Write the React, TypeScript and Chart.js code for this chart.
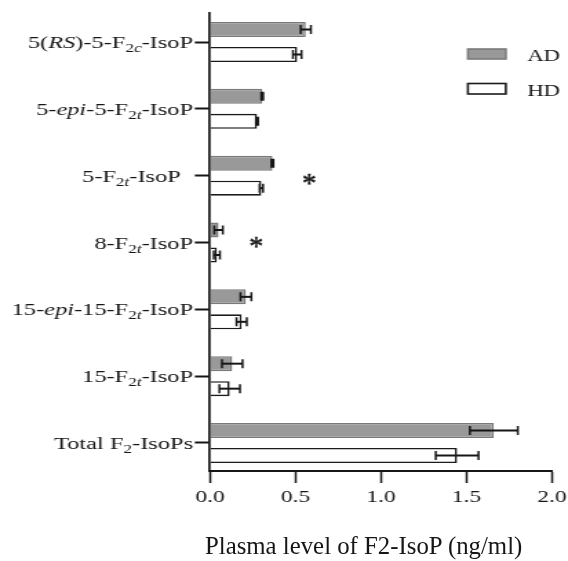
import React, { useEffect, useRef } from 'react';
import { Chart, registerables } from 'chart.js';

Chart.register(...registerables);

// ---------- data ----------
const categories = [
  '5(RS)-5-F2c-IsoP',
  '5-epi-5-F2t-IsoP',
  '5-F2t-IsoP',
  '8-F2t-IsoP',
  '15-epi-15-F2t-IsoP',
  '15-F2t-IsoP',
  'Total F2-IsoPs',
];
const seriesNames = ['AD', 'HD'];
const adMeans = [0.56, 0.305, 0.365, 0.05, 0.21, 0.13, 1.66];
const adErrors = [0.03, 0.006, 0.006, 0.025, 0.032, 0.06, 0.14];
const hdMeans = [0.51, 0.275, 0.3, 0.04, 0.185, 0.115, 1.445];
const hdErrors = [0.025, 0.006, 0.01, 0.018, 0.03, 0.06, 0.125];
const xTicks = [0, 0.5, 1.0, 1.5, 2.0];
// significance markers: x in ng/ml, y as (fractional) category index
const significance = [
  { y: 2.045, x: 0.58 },
  { y: 2.985, x: 0.27 },
];
const axisTitle = 'Plasma level of F2-IsoP (ng/ml)';

type Seg = { t: string; i?: boolean; sub?: boolean };
const labelParts: Seg[][] = [
  [{ t: '5(' }, { t: 'RS', i: true }, { t: ')-5-F' }, { t: '2', sub: true }, { t: 'c', sub: true, i: true }, { t: '-IsoP' }],
  [{ t: '5-' }, { t: 'epi', i: true }, { t: '-5-F' }, { t: '2', sub: true }, { t: 't', sub: true, i: true }, { t: '-IsoP' }],
  [{ t: '5-F' }, { t: '2', sub: true }, { t: 't', sub: true, i: true }, { t: '-IsoP  ' }],
  [{ t: '8-F' }, { t: '2', sub: true }, { t: 't', sub: true, i: true }, { t: '-IsoP' }],
  [{ t: '15-' }, { t: 'epi', i: true }, { t: '-15-F' }, { t: '2', sub: true }, { t: 't', sub: true, i: true }, { t: '-IsoP' }],
  [{ t: '15-F' }, { t: '2', sub: true }, { t: 't', sub: true, i: true }, { t: '-IsoP' }],
  [{ t: 'Total F' }, { t: '2', sub: true }, { t: '-IsoPs' }],
];

// ---------- styling ----------
const INNER_W = 412;
const OUTER_W = 568;
const H = 561;
const STRETCH = OUTER_W / INNER_W;
const FONT = '"Liberation Serif", "Times New Roman", serif';
const AD_FILL = '#999999';
const AD_BORDER = '#7a7a7a';
const HD_FILL = '#ffffff';
const HD_BORDER = '#1a1a1a';
const INK = '#161616';

const segFont = (s: Seg) => `${s.i ? 'italic ' : ''}${s.sub ? 12.5 : 17.7}px ${FONT}`;

const labelPlugin = {
  id: 'richLabels',
  afterDraw(chart: any) {
    const ctx = chart.ctx;
    const yScale = chart.scales.y;
    const right = chart.chartArea.left - 12.3;
    ctx.save();
    ctx.fillStyle = INK;
    ctx.textBaseline = 'alphabetic';
    ctx.textAlign = 'left';
    labelParts.forEach((parts, i) => {
      const y = yScale.getPixelForValue(i) + 6;
      let total = 0;
      parts.forEach((p) => {
        ctx.font = segFont(p);
        total += ctx.measureText(p.t).width;
      });
      let x = right - total;
      parts.forEach((p) => {
        ctx.font = segFont(p);
        ctx.fillText(p.t, x, p.sub ? y + 4 : y);
        x += ctx.measureText(p.t).width;
      });
    });
    ctx.restore();
  },
};

const errorBarPlugin = {
  id: 'errorBars',
  afterDatasetsDraw(chart: any) {
    const ctx = chart.ctx;
    const xScale = chart.scales.x;
    const means = [adMeans, hdMeans];
    const errs = [adErrors, hdErrors];
    ctx.save();
    ctx.strokeStyle = INK;
    chart.data.datasets.forEach((_: any, d: number) => {
      const meta = chart.getDatasetMeta(d);
      meta.data.forEach((bar: any, i: number) => {
        const y = bar.y;
        const x1 = xScale.getPixelForValue(means[d][i] - errs[d][i]);
        const x2 = xScale.getPixelForValue(means[d][i] + errs[d][i]);
        ctx.lineWidth = 2;
        ctx.beginPath();
        ctx.moveTo(x1, y);
        ctx.lineTo(x2, y);
        ctx.stroke();
        ctx.lineWidth = 1.5;
        ctx.beginPath();
        ctx.moveTo(x1, y - 4.5);
        ctx.lineTo(x1, y + 4.5);
        ctx.moveTo(x2, y - 4.5);
        ctx.lineTo(x2, y + 4.5);
        ctx.stroke();
      });
    });
    ctx.restore();
  },
};

const starPlugin = {
  id: 'stars',
  afterDraw(chart: any) {
    const ctx = chart.ctx;
    const xs = chart.scales.x;
    const ys = chart.scales.y;
    ctx.save();
    // undo the horizontal stretch so the asterisk keeps its shape
    ctx.scale(1 / STRETCH, 1);
    ctx.fillStyle = INK;
    ctx.strokeStyle = INK;
    ctx.lineWidth = 0.6;
    ctx.font = `28px ${FONT}`;
    ctx.textAlign = 'center';
    ctx.textBaseline = 'middle';
    significance.forEach((s) => {
      const px = xs.getPixelForValue(s.x) * STRETCH;
      const py = ys.getPixelForValue(s.y) + 6;
      ctx.fillText('*', px, py);
      ctx.strokeText('*', px, py);
    });
    ctx.restore();
  },
};

const legendPlugin = {
  id: 'customLegend',
  afterDraw(chart: any) {
    const ctx = chart.ctx;
    const area = chart.chartArea;
    const boxLeft = area.right - 61;
    const boxW = 27.5;
    const rows = [
      { top: 49, h: 10, fill: AD_FILL, stroke: AD_BORDER },
      { top: 83.5, h: 10.5, fill: HD_FILL, stroke: HD_BORDER },
    ];
    ctx.save();
    rows.forEach((r, i) => {
      ctx.fillStyle = r.fill;
      ctx.strokeStyle = r.stroke;
      ctx.lineWidth = 1.6;
      ctx.fillRect(boxLeft, r.top, boxW, r.h);
      ctx.strokeRect(boxLeft, r.top, boxW, r.h);
      ctx.fillStyle = INK;
      ctx.font = `16.5px ${FONT}`;
      ctx.textAlign = 'left';
      ctx.textBaseline = 'alphabetic';
      ctx.fillText(seriesNames[i], boxLeft + 43, r.top + r.h + 1.5);
    });
    ctx.restore();
  },
};

export default function App() {
  const canvasRef = useRef<HTMLCanvasElement | null>(null);

  useEffect(() => {
    document.body.style.margin = '0';
    const canvas = canvasRef.current;
    if (!canvas) return;
    const chart = new Chart(canvas, {
      type: 'bar',
      data: {
        datasets: [
          {
            label: seriesNames[0],
            data: categories.map((_, i) => ({ x: adMeans[i], y: i })),
            backgroundColor: AD_FILL,
            borderColor: AD_BORDER,
            borderWidth: 1.5,
            categoryPercentage: 0.748,
            barPercentage: 0.6,
          },
          {
            label: seriesNames[1],
            data: categories.map((_, i) => ({ x: hdMeans[i], y: i })),
            backgroundColor: HD_FILL,
            borderColor: HD_BORDER,
            borderWidth: 1.6,
            categoryPercentage: 0.748,
            barPercentage: 0.6,
          },
        ],
      },
      options: {
        indexAxis: 'y',
        animation: false,
        responsive: true,
        maintainAspectRatio: false,
        layout: { padding: { top: 13, right: 11.6, bottom: 50, left: 0 } },
        plugins: { legend: { display: false }, tooltip: { enabled: false } },
        scales: {
          x: {
            type: 'linear',
            min: 0,
            max: 2,
            afterBuildTicks: (s: any) => {
              s.ticks = xTicks.map((v) => ({ value: v }));
            },
            afterFit: (s: any) => {
              s.paddingLeft = 0;
              s.paddingRight = 0;
              s.height = 40;
            },
            ticks: {
              callback: (v: any) => Number(v).toFixed(1),
              font: { family: FONT, size: 17 },
              color: INK,
              padding: 4,
            },
            grid: {
              drawOnChartArea: false,
              drawTicks: true,
              tickLength: 12,
              tickWidth: 1.5,
              tickColor: INK,
            },
            border: { display: true, width: 2, color: INK },
          },
          y: {
            type: 'linear',
            reverse: true,
            offset: false,
            min: -0.434,
            max: 6.419,
            afterBuildTicks: (s: any) => {
              s.ticks = categories.map((_, i) => ({ value: i }));
            },
            afterFit: (s: any) => {
              s.width = 210 / STRETCH;
              s.paddingTop = 0;
              s.paddingBottom = 0;
            },
            ticks: { display: false },
            grid: {
              offset: false,
              drawOnChartArea: false,
              drawTicks: true,
              tickLength: 11,
              tickWidth: 2,
              tickColor: INK,
            },
            border: { display: true, width: 1.7, color: INK },
          },
        },
      } as any,
      plugins: [errorBarPlugin, labelPlugin, starPlugin, legendPlugin],
    });
    return () => chart.destroy();
  }, []);

  return (
    <div style={{ position: 'relative', width: OUTER_W, height: H, background: '#fff', overflow: 'hidden' }}>
      <div
        style={{
          position: 'absolute',
          left: 0,
          top: 0,
          width: INNER_W,
          height: H,
          transform: `scaleX(${STRETCH})`,
          transformOrigin: '0 0',
        }}
      >
        <canvas ref={canvasRef} />
      </div>
      <div
        style={{
          position: 'absolute',
          left: 205,
          top: 533.4,
          font: `24.8px ${FONT}`,
          lineHeight: '25px',
          whiteSpace: 'nowrap',
          color: INK,
        }}
      >
        {axisTitle}
      </div>
    </div>
  );
}
